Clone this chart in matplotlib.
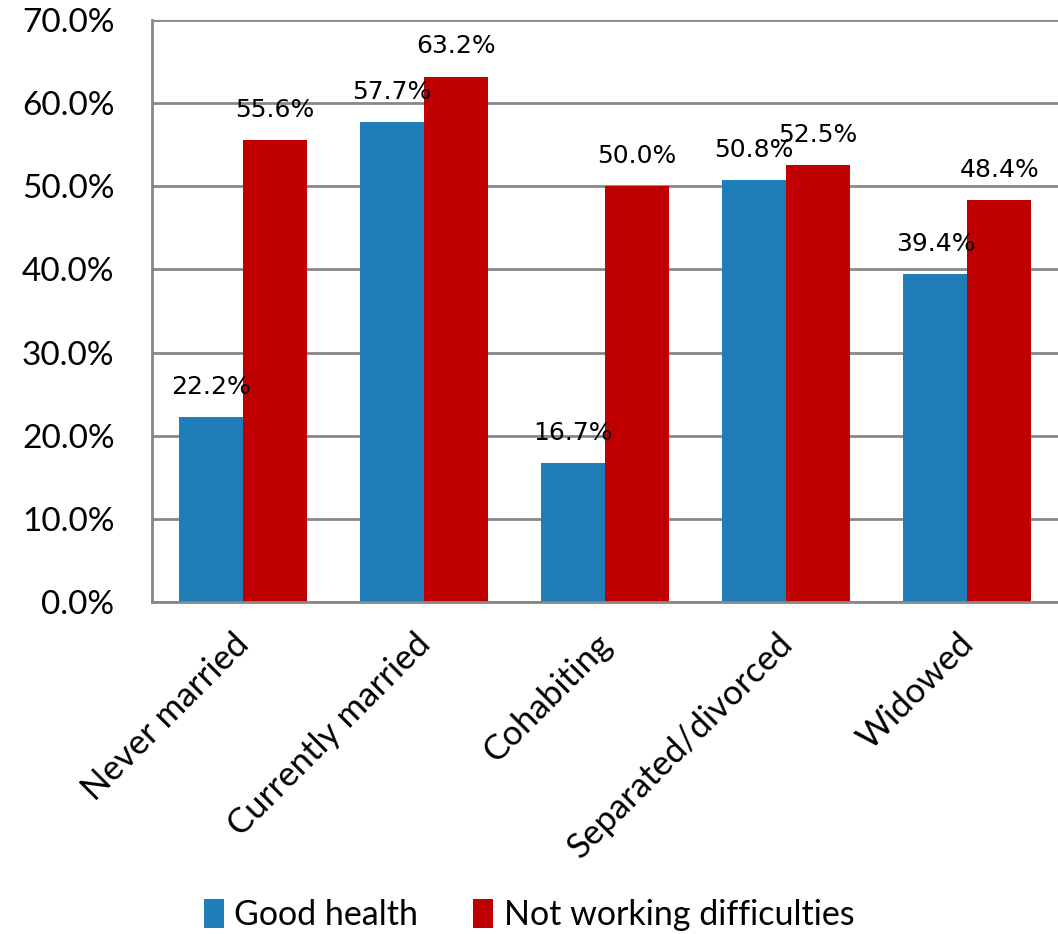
import matplotlib.pyplot as plt
import matplotlib.transforms as mtransforms
import numpy as np
from matplotlib.ticker import FuncFormatter

categories = ['Never married', 'Currently married', 'Cohabiting',
              'Separated/divorced', 'Widowed']
good_health = [22.2, 57.7, 16.7, 50.8, 39.4]
not_working = [55.6, 63.2, 50.0, 52.5, 48.4]
series_names = ['Good health', 'Not working difficulties']

plt.rcParams['font.family'] = ['Lato', 'DejaVu Sans']

fig = plt.figure(figsize=[10.58, 9.34], dpi=100)
ax = fig.add_axes([0.1437, 0.3555, 0.8563, 0.6231])

x = np.arange(len(categories))
w = 0.353
b1 = ax.bar(x - w/2, good_health, w, color='#1F7EB8', label=series_names[0], zorder=2)
b2 = ax.bar(x + w/2, not_working, w, color='#C00000', label=series_names[1], zorder=2)

for bars in (b1, b2):
	for r in bars:
		v = r.get_height()
		ax.annotate('%.1f%%' % v, xy=(r.get_x() + r.get_width()/2, v),
			xytext=(0, 13), textcoords='offset points', ha='center', va='bottom',
			fontsize=18, family='DejaVu Sans', zorder=3)

ax.set_xlim(-0.5, len(categories) - 0.5)
ax.set_ylim(0, 70)
ax.set_yticks(np.arange(0, 71, 10))
ax.yaxis.set_major_formatter(FuncFormatter(lambda v, p: '%.1f%%' % v))
ax.grid(axis='y', color='#888888', linewidth=2, zorder=0)
ax.set_axisbelow(True)

for s in ['top', 'right']:
	ax.spines[s].set_visible(False)
for s in ['left', 'bottom']:
	ax.spines[s].set_color('#888888')
	ax.spines[s].set_linewidth(2)

ax.set_xticks(x)
ax.set_xticklabels(categories, rotation=45, ha='right', rotation_mode='anchor', fontsize=25)
ax.tick_params(axis='y', labelsize=24, length=0, pad=27)
ax.tick_params(axis='x', length=0, pad=14)

# nudge rotated labels a bit left and down
shift = mtransforms.ScaledTranslation(-10/100., -6/100., fig.dpi_scale_trans)
for lab in ax.get_xticklabels():
	lab.set_transform(lab.get_transform() + shift)

fig.legend(loc='center', bbox_to_anchor=(0.5, 0.02), ncol=2, frameon=False,
	fontsize=24.5, handlelength=0.6, handleheight=0.9, handletextpad=0.3,
	columnspacing=1.6, borderaxespad=0, borderpad=0)

plt.savefig('out.png', dpi=100, facecolor='w')
